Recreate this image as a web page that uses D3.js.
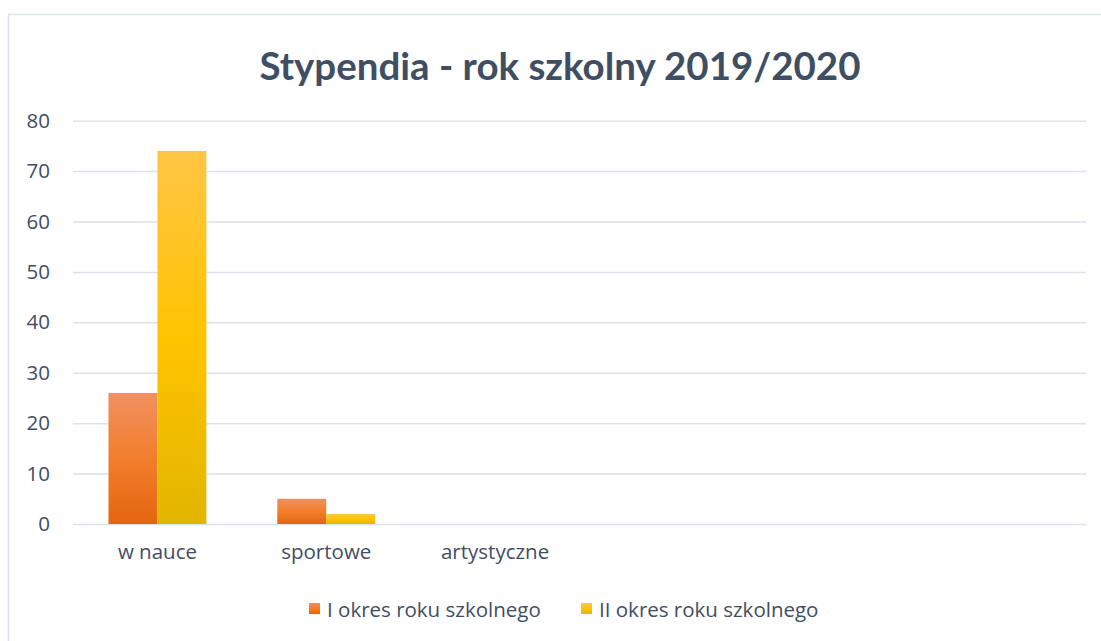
<!DOCTYPE html>
<html>
<head>
<meta charset="utf-8">
<script src="https://cdnjs.cloudflare.com/ajax/libs/d3/7.8.5/d3.min.js"></script>
<style>
  html, body { margin: 0; padding: 0; background: #fff; }
  svg { display: block; }
</style>
</head>
<body>
<svg width="1101" height="641"></svg>
<script>
// chart data
var categories = ["w nauce", "sportowe", "artystyczne", "", "", ""];
var seriesNames = ["I okres roku szkolnego", "II okres roku szkolnego"];
var firstTerm = [26, 5, 0, null, null, null];
var secondTerm = [74, 2, 0, null, null, null];
var yTicks = [0, 10, 20, 30, 40, 50, 60, 70, 80];

var textColor = '#3f4e63';
var gridColor = '#dde2ea';

var svg = d3.select('svg');

// gradients like the Excel bar fill
var defs = svg.append('defs');
var gradients = [
    { id: 'gOrange', stops: ['#f19061', '#f27e2c', '#e4650f'] },
    { id: 'gYellow', stops: ['#ffc545', '#ffc400', '#e2b500'] }
];
gradients.forEach(function(g) {
    var lg = defs.append('linearGradient')
        .attr('id', g.id)
        .attr('x1', 0).attr('y1', 0).attr('x2', 0).attr('y2', 1);
    lg.append('stop').attr('offset', '0%').attr('stop-color', g.stops[0]);
    lg.append('stop').attr('offset', '50%').attr('stop-color', g.stops[1]);
    lg.append('stop').attr('offset', '100%').attr('stop-color', g.stops[2]);
});

// chart border (runs off the right and bottom edge)
svg.append('path')
    .attr('d', 'M1110,14.5 H8.5 V650')
    .style('fill', 'none')
    .style('stroke', gridColor)
    .style('stroke-width', 1.5);

// title
svg.append('text')
    .text('Stypendia - rok szkolny 2019/2020')
    .attr('x', 560)
    .attr('y', 80)
    .attr('textLength', 601)
    .attr('lengthAdjust', 'spacingAndGlyphs')
    .style('text-anchor', 'middle')
    .style('fill', textColor)
    .style('font-size', '38px')
    .style('font-weight', 'bold')
    .style('font-family', 'Lato');

var margin = { left: 73, right: 1086, top: 120.7, bottom: 524 };

var x = d3.scaleBand()
    .domain(d3.range(categories.length))
    .range([margin.left, margin.right])
    .paddingInner(71 / 169)
    .paddingOuter(35.5 / 169);

var xInner = d3.scaleBand()
    .domain([0, 1])
    .range([0, x.bandwidth()]);

var y = d3.scaleLinear()
    .domain([0, 80])
    .range([margin.bottom, margin.top]);

// y axis with gridlines
var yAxis = svg.append('g')
    .attr('transform', 'translate(' + margin.left + ',0)')
    .call(d3.axisLeft(y)
        .tickValues(yTicks)
        .tickSize(-(margin.right - margin.left))
        .tickPadding(23));
yAxis.select('.domain').remove();
yAxis.selectAll('line')
    .style('stroke', gridColor)
    .style('stroke-width', 1.5);
yAxis.selectAll('text')
    .style('fill', textColor)
    .style('font-size', '20.5px')
    .style('font-family', 'Open Sans');

// category labels
var xAxis = svg.append('g')
    .attr('transform', 'translate(0,' + margin.bottom + ')')
    .call(d3.axisBottom(x)
        .tickSize(0)
        .tickPadding(20)
        .tickFormat(function(i) { return categories[i]; }));
xAxis.select('.domain').remove();
xAxis.selectAll('text')
    .style('fill', textColor)
    .style('font-size', '20.5px')
    .style('font-family', 'Open Sans');

// bars
var series = [
    { name: seriesNames[0], values: firstTerm, fill: 'url(#gOrange)' },
    { name: seriesNames[1], values: secondTerm, fill: 'url(#gYellow)' }
];

series.forEach(function(s, si) {
    svg.append('g')
        .selectAll('rect')
        .data(s.values.map(function(v, i) { return { i: i, v: v }; })
            .filter(function(d) { return d.v; }))
        .enter()
        .append('rect')
        .attr('x', function(d) { return x(d.i) + xInner(si); })
        .attr('y', function(d) { return y(d.v); })
        .attr('width', xInner.bandwidth())
        .attr('height', function(d) { return y(0) - y(d.v); })
        .style('fill', s.fill);
});

// legend
var legendX = [309, 581];
var legend = svg.selectAll('.legend')
    .data(series)
    .enter()
    .append('g')
    .attr('class', 'legend')
    .attr('transform', function(d, i) { return 'translate(' + legendX[i] + ',603)'; });

legend.append('rect')
    .attr('width', 11)
    .attr('height', 11)
    .style('fill', function(d) { return d.fill; });

legend.append('text')
    .text(function(d) { return d.name; })
    .attr('x', 18)
    .attr('y', 14)
    .style('fill', textColor)
    .style('font-size', '20.5px')
    .style('font-family', 'Open Sans');
</script>
</body>
</html>
